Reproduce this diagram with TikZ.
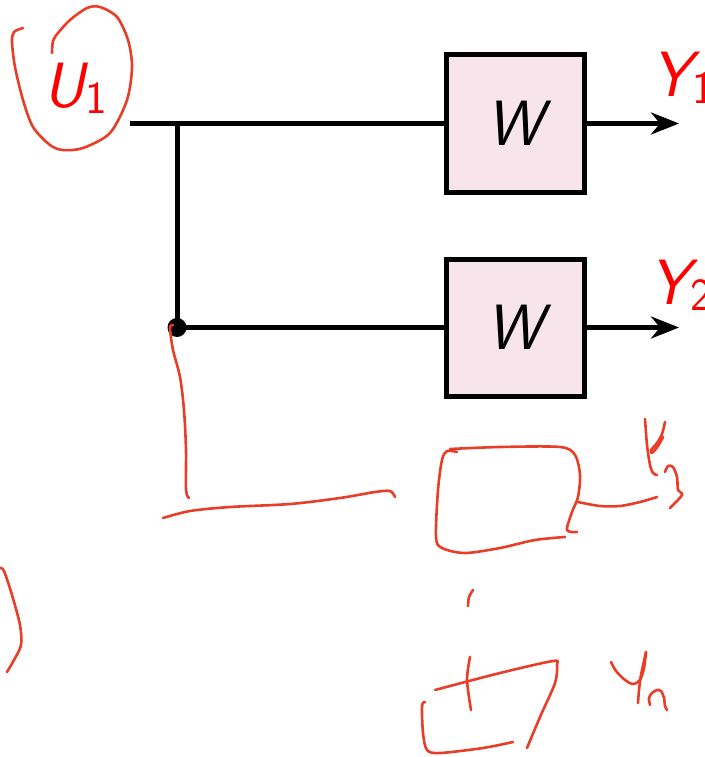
\documentclass[tikz,border=0pt]{standalone}
\usepackage{fontspec}
\usetikzlibrary{arrows.meta}
\definecolor{ink}{RGB}{232,62,40}
\definecolor{boxfill}{RGB}{248,229,236}
\begin{document}
\begin{tikzpicture}[x=1pt,y=-1pt,
  wire/.style={line width=5pt},
  block/.style={draw,line width=5pt,fill=boxfill,minimum width=138pt,minimum height=137pt,
    inner sep=0pt,font=\fontsize{64}{66}\selectfont\sffamily\itshape},
  sig/.style={text=red,inner sep=0pt,font=\fontsize{64}{66}\selectfont\sffamily},
  outarrow/.style={wire,-{Stealth[length=28pt,width=22pt,inset=9pt]}},
  pen/.style={draw=ink,line width=2.6pt,line cap=round,line join=round}]
\useasboundingbox (0,0) rectangle (704,757);

% channel blocks
\node[block] (w1) at (515,123.5) {W};
\node[block] (w2) at (515,327.5) {W};

% input wiring
\coordinate (in) at (130,123.5);
\coordinate (split) at (177,123.5);
\coordinate (tap) at (177,327.5);
\draw[wire] (in) -- (w1.west);
\draw[wire] (split) -- (tap) -- (w2.west);
\fill (tap) circle (9.5pt);

% outputs
\coordinate (y1end) at (679,123.5);
\coordinate (y2end) at (679,327.5);
\draw[outarrow] (w1.east) -- (y1end);
\draw[outarrow] (w2.east) -- (y2end);

% signal labels
\node[sig,anchor=base west] (u1) at (43,107) {{\itshape U}\kern1pt\raisebox{-6pt}{\fontsize{46}{46}\selectfont 1}};
\node[sig,anchor=base west] (y1) at (651,97) {{\itshape Y}\kern1pt\raisebox{-6pt}{\fontsize{46}{46}\selectfont 1}};
\node[sig,anchor=base west] (y2) at (649,304) {{\itshape Y}\kern1pt\raisebox{-6pt}{\fontsize{46}{46}\selectfont 2}};

% pen annotations
\draw[pen] plot[smooth] coordinates {(23,28) (14,32) (12,42) (15,67) (23,100) (33,127) (50,145) (63,150) (83,148) (110,133) (127,100) (132,67) (128,40) (117,17) (100,7) (87,8) (70,20) (58,33) (53,41) (52,53)};
\draw[pen] plot[smooth] coordinates {(173,325) (170,328) (173,350) (180,377) (184,410) (186,450) (186,490) (189,498)};
\draw[pen] plot[smooth] coordinates {(163,518) (190,511) (230,507) (290,504) (340,498) (375,492) (390,491) (395,497)};
\draw[pen] plot[smooth] coordinates {(457,452) (447,451) (442,460) (438,490) (436,537) (442,548) (465,553) (500,548) (535,540) (565,537)};
\draw[pen] plot[smooth] coordinates {(450,449) (500,447) (560,447) (575,455) (580,475) (578,497) (572,512) (567,530) (577,532)};
\draw[pen] plot[smooth] coordinates {(578,502) (600,506) (620,506) (640,502) (657,497)};
\draw[pen] plot[smooth] coordinates {(645,419) (647,445) (650,465) (653,473) (657,475)};
\draw[pen] plot[smooth] coordinates {(665,422) (662,434) (657,443) (651,450) (652,453) (658,446) (663,437)};
\draw[pen] plot[smooth] coordinates {(665,472) (668,466) (673,467) (677,477) (678,490) (682,495) (670,508)};
\draw[pen] plot[smooth] coordinates {(473,590) (469,597) (468,606)};
\draw[pen] plot[smooth] coordinates {(470,657) (467,680) (471,710)};
\draw[pen] plot[smooth] coordinates {(435,690) (500,673) (553,661) (557,665) (555,683) (540,717) (527,748)};
\draw[pen] plot[smooth] coordinates {(425,702) (422,706) (423,733) (427,750) (440,753) (483,748) (513,742)};
\draw[pen] plot[smooth] coordinates {(0,568) (4,571) (12,595) (20,625) (21,645) (14,660) (7,672)};
\draw[pen] plot[smooth] coordinates {(611,662) (616,671) (625,680) (633,684) (640,680) (644,668) (646,652)};
\draw[pen] plot[smooth] coordinates {(646,652) (641,675) (639,690) (638,703)};
\draw[pen] plot[smooth] coordinates {(650,705) (649,698) (652,693) (657,690) (661,691) (664,698) (665,706) (667,710)};
\end{tikzpicture}
\end{document}
